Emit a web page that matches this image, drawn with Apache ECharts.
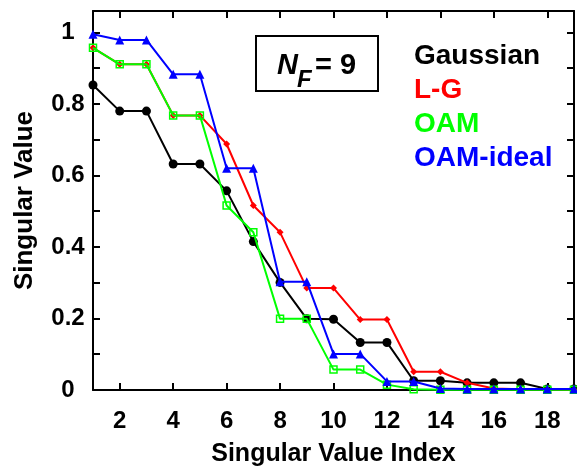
<!DOCTYPE html>
<html>
<head>
<meta charset="utf-8">
<script src="https://cdn.jsdelivr.net/npm/echarts@6/dist/echarts.min.js"></script>
<style>html,body{margin:0;padding:0;background:#fff;}#c{width:577px;height:467px;}</style>
</head>
<body>
<div id="c"></div>
<script>
const xLabels = ['1','2','3','4','5','6','7','8','9','10','11','12','13','14','15','16','17','18','19'];
const gaussian = [0.853,0.780,0.780,0.632,0.632,0.557,0.415,0.301,0.199,0.198,0.133,0.133,0.026,0.026,0.020,0.020,0.020,0.003,0.003];
const lg = [0.957,0.911,0.911,0.768,0.768,0.688,0.516,0.441,0.285,0.285,0.197,0.197,0.051,0.051,0.020,0.004,0.002,0.002,0.001];
const oam = [0.957,0.911,0.911,0.768,0.768,0.516,0.441,0.199,0.199,0.057,0.057,0.015,0.002,0.001,0.001,0.001,0.001,0.001,0.001];
const oamIdeal = [0.995,0.979,0.979,0.883,0.883,0.620,0.620,0.303,0.303,0.101,0.101,0.024,0.024,0.004,0.003,0.003,0.003,0.003,0.003];
const seriesNames = ['Gaussian','L-G','OAM','OAM-ideal'];
const yTicks = [0,0.2,0.4,0.6,0.8,1];

const FONT = "'Liberation Sans', Arial, sans-serif";
const chart = echarts.init(document.getElementById('c'), null, {renderer:'canvas'});
const evenIdx = (i) => i % 2 === 1;
const yFmt = (v) => {
  const r = Math.round(v * 10) / 10;
  if (Math.abs(v - r) > 1e-6) return '';
  return yTicks.some(t => Math.abs(t - r) < 1e-6) ? String(r) : '';
};
const axisLine = {show:true, onZero:false, lineStyle:{color:'#000', width:2}};
const tick = {show:true, inside:true, length:7, lineStyle:{color:'#000', width:2}};

chart.setOption({
  backgroundColor:'#fff',
  animation:false,
  grid:{left:93, right:3, top:11, bottom:77, containLabel:false, outerBoundsMode:'none'},
  legend:{
    orient:'vertical', left:409, top:39, padding:0, itemGap:0,
    itemWidth:0, itemHeight:0, icon:'none', selectedMode:false,
    textStyle:{fontFamily:FONT, fontWeight:'bold', fontSize:28, lineHeight:34},
    data:[
      {name:seriesNames[0], textStyle:{color:'#000000'}},
      {name:seriesNames[1], textStyle:{color:'#ff0000'}},
      {name:seriesNames[2], textStyle:{color:'#00ff00'}},
      {name:seriesNames[3], textStyle:{color:'#0000ff'}}
    ]
  },
  xAxis:[
    {type:'category', data:xLabels, boundaryGap:false, position:'bottom',
     axisLine:axisLine, axisTick:Object.assign({interval:evenIdx}, tick),
     axisLabel:{interval:evenIdx, color:'#000', fontFamily:FONT, fontWeight:'bold', fontSize:24, margin:19},
     splitLine:{show:false},
     name:'Singular Value Index', nameLocation:'middle', nameGap:52,
     nameTextStyle:{color:'#000', fontFamily:FONT, fontWeight:'bold', fontSize:25}},
    {type:'category', data:xLabels, boundaryGap:false, position:'top',
     axisLine:axisLine, axisTick:Object.assign({interval:evenIdx}, tick),
     axisLabel:{show:false}, splitLine:{show:false}}
  ],
  yAxis:[
    {type:'value', min:0, max:1.06, interval:0.1, position:'left',
     axisLine:axisLine, axisTick:tick,
     axisLabel:{formatter:yFmt, color:'#000', fontFamily:FONT, fontWeight:'bold', fontSize:24, margin:25, align:'center', padding:[7,0,0,0], showMaxLabel:false},
     splitLine:{show:false},
     name:'Singular Value', nameLocation:'middle', nameGap:55,
     nameTextStyle:{color:'#000', fontFamily:FONT, fontWeight:'bold', fontSize:26}},
    {type:'value', min:0, max:1.06, interval:0.1, position:'right',
     axisLine:axisLine, axisTick:tick, axisLabel:{show:false}, splitLine:{show:false}}
  ],
  series:[
    {name:seriesNames[0], type:'line', data:gaussian, symbol:'circle', symbolSize:9,
     lineStyle:{color:'#000', width:2}, itemStyle:{color:'#000'}, z:2},
    {name:seriesNames[1], type:'line', data:lg, symbol:'diamond', symbolSize:7,
     lineStyle:{color:'#ff0000', width:2}, itemStyle:{color:'#ff0000'}, z:3},
    {name:seriesNames[2], type:'line', data:oam, symbol:'rect', symbolSize:7,
     lineStyle:{color:'#00ff00', width:2}, itemStyle:{color:'rgba(0,0,0,0)', borderColor:'#00ff00', borderWidth:1.5}, z:4},
    {name:seriesNames[3], type:'line', data:oamIdeal, symbol:'triangle', symbolSize:9,
     lineStyle:{color:'#0000ff', width:2}, itemStyle:{color:'#0000ff'}, z:5}
  ],
  graphic:[
    {type:'rect', shape:{x:256, y:36, width:122, height:55}, style:{fill:'#fff', stroke:'#000', lineWidth:2}, z:10},
    {type:'text', x:277, y:66, z:11, style:{text:'N', font:"italic bold 29px " + FONT, fill:'#000', verticalAlign:'middle', align:'left'}},
    {type:'text', x:297, y:80, z:11, style:{text:'F', font:"italic bold 24px " + FONT, fill:'#000', verticalAlign:'middle', align:'left'}},
    {type:'text', x:315, y:66, z:11, style:{text:'= 9', font:"bold 29px " + FONT, fill:'#000', verticalAlign:'middle', align:'left'}}
  ]
});
</script>
</body>
</html>
